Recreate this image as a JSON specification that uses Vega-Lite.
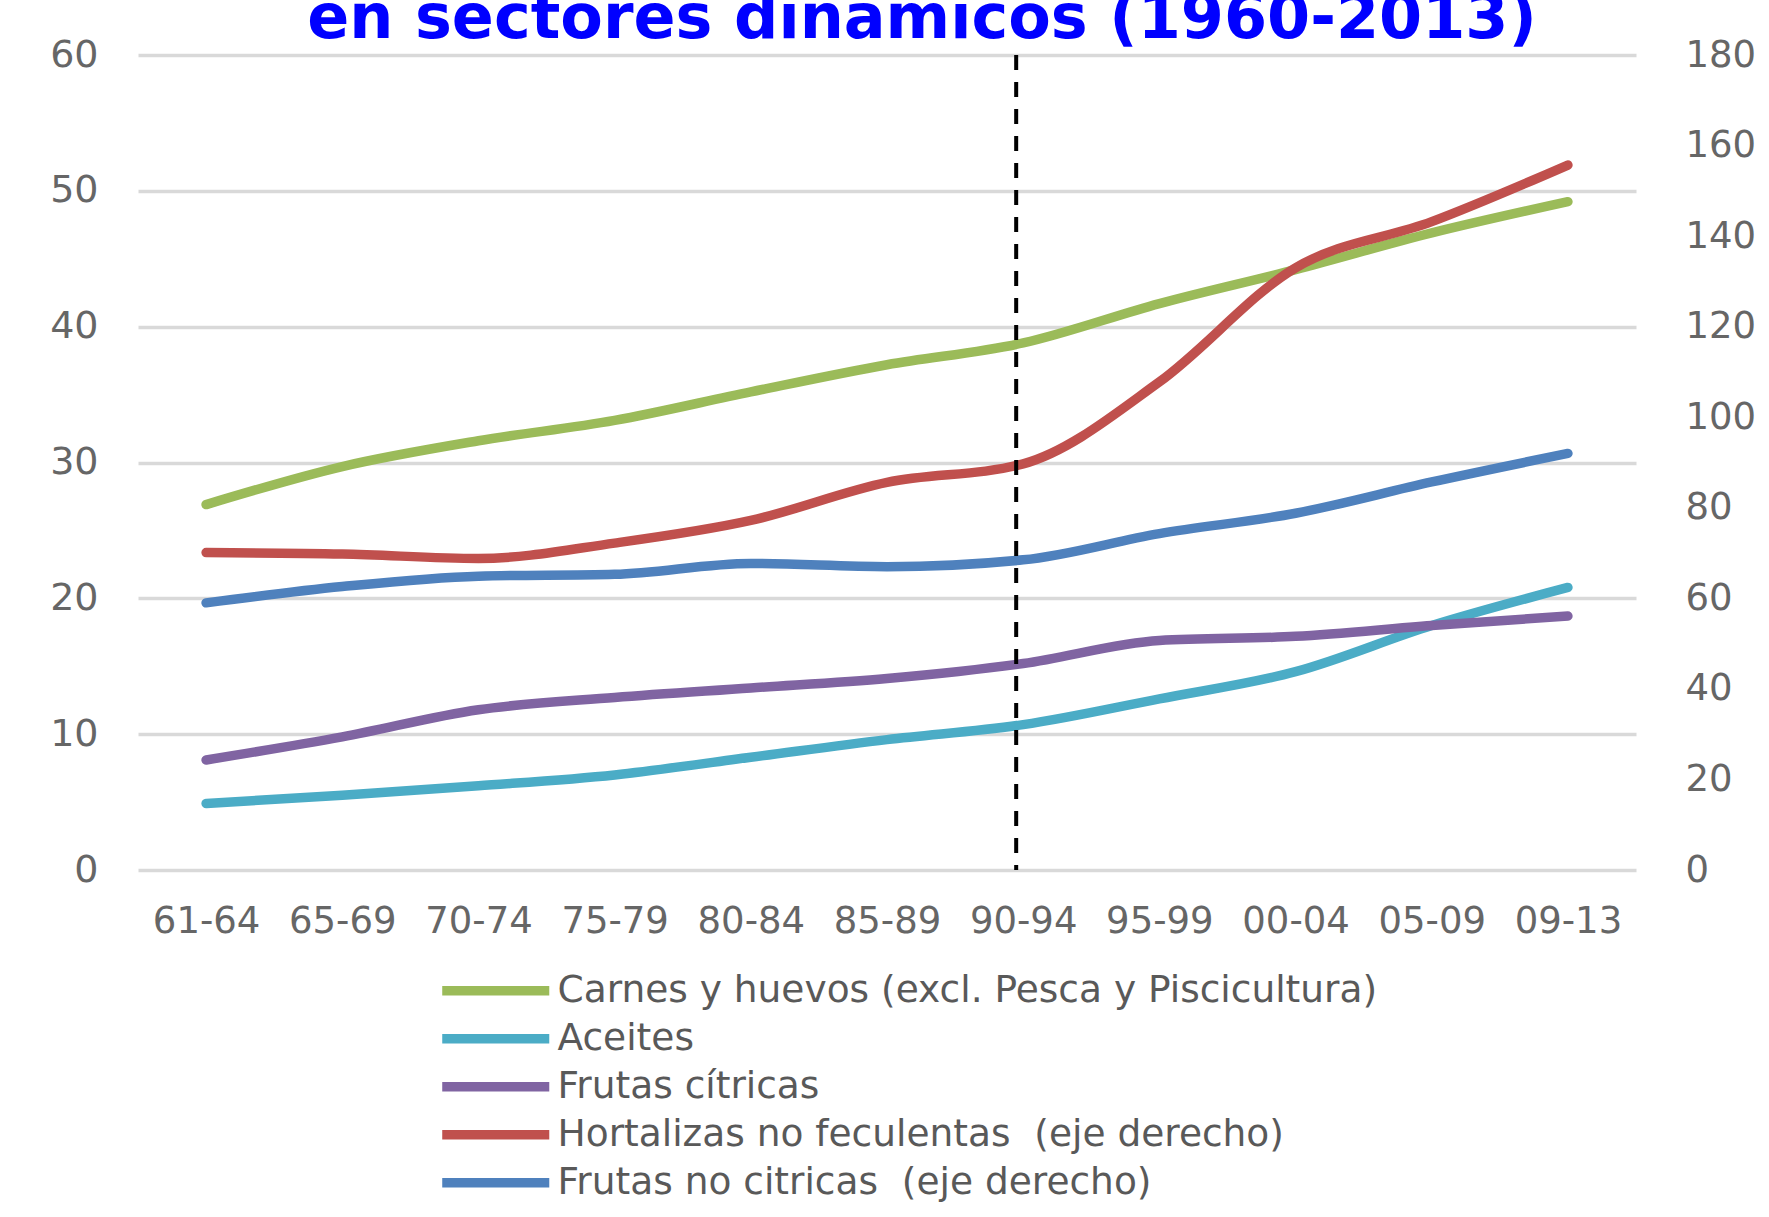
{
  "$schema": "https://vega.github.io/schema/vega-lite/v6.json",
  "autosize": {"type": "none"},
  "width": 1498,
  "height": 815,
  "padding": {"left": 138, "top": 55, "right": 133, "bottom": 347},
  "background": "white",
  "title": {
    "text": "en sectores dinámicos (1960-2013)",
    "font": "DejaVu Sans",
    "fontSize": 62,
    "fontWeight": "bold",
    "color": "#0000FF",
    "anchor": "middle",
    "frame": "group",
    "baseline": "alphabetic",
    "offset": 0,
    "dx": 35,
    "dy": 64
  },
  "data": {
    "values": [
      {"periodo": "61-64", "serie": "Carnes y huevos (excl. Pesca y Piscicultura)", "valor": 26.9},
      {"periodo": "65-69", "serie": "Carnes y huevos (excl. Pesca y Piscicultura)", "valor": 29.7},
      {"periodo": "70-74", "serie": "Carnes y huevos (excl. Pesca y Piscicultura)", "valor": 31.6},
      {"periodo": "75-79", "serie": "Carnes y huevos (excl. Pesca y Piscicultura)", "valor": 33.1},
      {"periodo": "80-84", "serie": "Carnes y huevos (excl. Pesca y Piscicultura)", "valor": 35.2},
      {"periodo": "85-89", "serie": "Carnes y huevos (excl. Pesca y Piscicultura)", "valor": 37.2},
      {"periodo": "90-94", "serie": "Carnes y huevos (excl. Pesca y Piscicultura)", "valor": 38.8},
      {"periodo": "95-99", "serie": "Carnes y huevos (excl. Pesca y Piscicultura)", "valor": 41.7},
      {"periodo": "00-04", "serie": "Carnes y huevos (excl. Pesca y Piscicultura)", "valor": 44.2},
      {"periodo": "05-09", "serie": "Carnes y huevos (excl. Pesca y Piscicultura)", "valor": 46.9},
      {"periodo": "09-13", "serie": "Carnes y huevos (excl. Pesca y Piscicultura)", "valor": 49.2},

      {"periodo": "61-64", "serie": "Aceites", "valor": 4.9},
      {"periodo": "65-69", "serie": "Aceites", "valor": 5.5},
      {"periodo": "70-74", "serie": "Aceites", "valor": 6.2},
      {"periodo": "75-79", "serie": "Aceites", "valor": 7.0},
      {"periodo": "80-84", "serie": "Aceites", "valor": 8.3},
      {"periodo": "85-89", "serie": "Aceites", "valor": 9.6},
      {"periodo": "90-94", "serie": "Aceites", "valor": 10.7},
      {"periodo": "95-99", "serie": "Aceites", "valor": 12.6},
      {"periodo": "00-04", "serie": "Aceites", "valor": 14.6},
      {"periodo": "05-09", "serie": "Aceites", "valor": 18.0},
      {"periodo": "09-13", "serie": "Aceites", "valor": 20.8},

      {"periodo": "61-64", "serie": "Frutas cítricas", "valor": 8.1},
      {"periodo": "65-69", "serie": "Frutas cítricas", "valor": 9.8},
      {"periodo": "70-74", "serie": "Frutas cítricas", "valor": 11.8},
      {"periodo": "75-79", "serie": "Frutas cítricas", "valor": 12.7},
      {"periodo": "80-84", "serie": "Frutas cítricas", "valor": 13.4},
      {"periodo": "85-89", "serie": "Frutas cítricas", "valor": 14.1},
      {"periodo": "90-94", "serie": "Frutas cítricas", "valor": 15.2},
      {"periodo": "95-99", "serie": "Frutas cítricas", "valor": 16.9},
      {"periodo": "00-04", "serie": "Frutas cítricas", "valor": 17.2},
      {"periodo": "05-09", "serie": "Frutas cítricas", "valor": 18.0},
      {"periodo": "09-13", "serie": "Frutas cítricas", "valor": 18.7},

      {"periodo": "61-64", "serie": "Hortalizas no feculentas \u00a0(eje derecho)", "valor": 70.1},
      {"periodo": "65-69", "serie": "Hortalizas no feculentas \u00a0(eje derecho)", "valor": 69.8},
      {"periodo": "70-74", "serie": "Hortalizas no feculentas \u00a0(eje derecho)", "valor": 68.8},
      {"periodo": "75-79", "serie": "Hortalizas no feculentas \u00a0(eje derecho)", "valor": 72.2},
      {"periodo": "80-84", "serie": "Hortalizas no feculentas \u00a0(eje derecho)", "valor": 77.2},
      {"periodo": "85-89", "serie": "Hortalizas no feculentas \u00a0(eje derecho)", "valor": 85.6},
      {"periodo": "90-94", "serie": "Hortalizas no feculentas \u00a0(eje derecho)", "valor": 89.7},
      {"periodo": "95-99", "serie": "Hortalizas no feculentas \u00a0(eje derecho)", "valor": 107.8},
      {"periodo": "00-04", "serie": "Hortalizas no feculentas \u00a0(eje derecho)", "valor": 133.0},
      {"periodo": "05-09", "serie": "Hortalizas no feculentas \u00a0(eje derecho)", "valor": 143.2},
      {"periodo": "09-13", "serie": "Hortalizas no feculentas \u00a0(eje derecho)", "valor": 155.7},

      {"periodo": "61-64", "serie": "Frutas no citricas \u00a0(eje derecho)", "valor": 59.0},
      {"periodo": "65-69", "serie": "Frutas no citricas \u00a0(eje derecho)", "valor": 62.6},
      {"periodo": "70-74", "serie": "Frutas no citricas \u00a0(eje derecho)", "valor": 64.9},
      {"periodo": "75-79", "serie": "Frutas no citricas \u00a0(eje derecho)", "valor": 65.3},
      {"periodo": "80-84", "serie": "Frutas no citricas \u00a0(eje derecho)", "valor": 67.7},
      {"periodo": "85-89", "serie": "Frutas no citricas \u00a0(eje derecho)", "valor": 67.0},
      {"periodo": "90-94", "serie": "Frutas no citricas \u00a0(eje derecho)", "valor": 68.5},
      {"periodo": "95-99", "serie": "Frutas no citricas \u00a0(eje derecho)", "valor": 74.3},
      {"periodo": "00-04", "serie": "Frutas no citricas \u00a0(eje derecho)", "valor": 78.8},
      {"periodo": "05-09", "serie": "Frutas no citricas \u00a0(eje derecho)", "valor": 85.7},
      {"periodo": "09-13", "serie": "Frutas no citricas \u00a0(eje derecho)", "valor": 92.0}
    ]
  },
  "encoding": {
    "x": {
      "field": "periodo",
      "type": "ordinal",
      "sort": ["61-64", "65-69", "70-74", "75-79", "80-84", "85-89", "90-94", "95-99", "00-04", "05-09", "09-13"],
      "scale": {"type": "point", "padding": 0.5},
      "axis": {
        "title": null,
        "labelAngle": 0,
        "labelFont": "DejaVu Sans",
        "labelFontSize": 37,
        "labelColor": "#666666",
        "labelPadding": 33,
        "ticks": false,
        "domain": false,
        "grid": false
      }
    }
  },
  "layer": [
    {
      "transform": [{"filter": {"field": "serie", "oneOf": ["Carnes y huevos (excl. Pesca y Piscicultura)", "Aceites", "Frutas cítricas"]}}],
      "mark": {"type": "line", "strokeWidth": 9.5, "strokeCap": "round", "strokeJoin": "round", "interpolate": "monotone"},
      "encoding": {
        "y": {
          "field": "valor",
          "type": "quantitative",
          "scale": {"domain": [0, 60], "nice": false, "zero": true},
          "axis": {
            "title": null,
            "orient": "left",
            "values": [0, 10, 20, 30, 40, 50, 60],
            "labelFont": "DejaVu Sans",
            "labelFontSize": 38,
            "labelColor": "#666666",
            "labelPadding": 40,
            "ticks": false,
            "domain": false,
            "grid": true,
            "gridColor": "#d9d9d9",
            "gridWidth": 3.5
          }
        },
        "color": {
          "field": "serie",
          "type": "nominal",
          "scale": {
            "domain": ["Carnes y huevos (excl. Pesca y Piscicultura)", "Aceites", "Frutas cítricas", "Hortalizas no feculentas \u00a0(eje derecho)", "Frutas no citricas \u00a0(eje derecho)"],
            "range": ["#9BBB59", "#4BACC6", "#8064A2", "#C0504D", "#4F81BD"]
          },
          "legend": {
            "title": null,
            "orient": "none",
            "legendX": 339,
            "legendY": 917,
            "direction": "vertical",
            "symbolType": "M-4,0H4",
            "symbolSize": 716,
            "symbolStrokeWidth": 9.5,
            "labelFont": "DejaVu Sans",
            "labelFontSize": 37.5,
            "labelColor": "#595959",
            "labelOffset": 43,
            "labelLimit": 1200,
            "rowPadding": 9,
            "padding": 0
          }
        }
      }
    },
    {
      "transform": [{"filter": {"field": "serie", "oneOf": ["Hortalizas no feculentas \u00a0(eje derecho)", "Frutas no citricas \u00a0(eje derecho)"]}}],
      "mark": {"type": "line", "strokeWidth": 9.5, "strokeCap": "round", "strokeJoin": "round", "interpolate": "monotone"},
      "encoding": {
        "y": {
          "field": "valor",
          "type": "quantitative",
          "scale": {"domain": [0, 180], "nice": false, "zero": true},
          "axis": {
            "title": null,
            "orient": "right",
            "values": [0, 20, 40, 60, 80, 100, 120, 140, 160, 180],
            "labelFont": "DejaVu Sans",
            "labelFontSize": 37,
            "labelColor": "#666666",
            "labelPadding": 49,
            "ticks": false,
            "domain": false,
            "grid": false
          }
        },
        "color": {"field": "serie", "type": "nominal"}
      }
    },
    {
      "data": {"values": [{"periodo": "90-94"}]},
      "mark": {"type": "rule", "color": "black", "strokeWidth": 4, "strokeDash": [15, 12], "xOffset": -7},
      "encoding": {
        "x": {"field": "periodo", "type": "ordinal"}
      }
    }
  ],
  "resolve": {"scale": {"y": "independent"}},
  "config": {
    "view": {"stroke": null}
  }
}
